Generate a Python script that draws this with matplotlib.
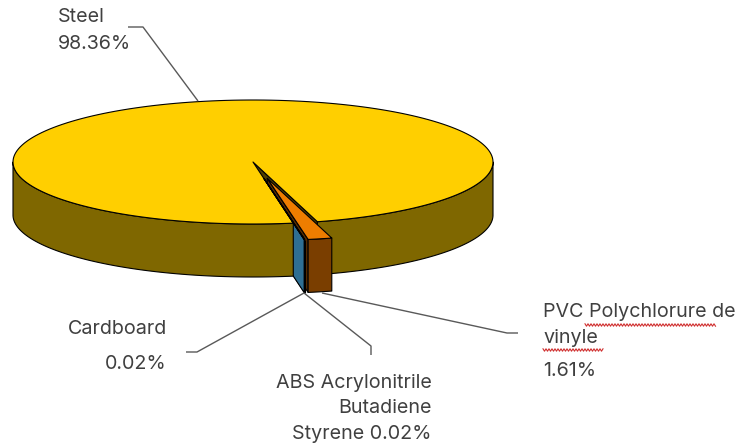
import numpy as np
import matplotlib.pyplot as plt
from matplotlib.patches import Polygon

# data
labels = ["PVC Polychlorure de\nvinyle", "Cardboard", "ABS Acrylonitrile\nButadiene\nStyrene", "Steel"]
shares = [1.61, 0.02, 0.02, 98.36]
top_colors = ["#EE7D00", "#A5A5A5", "#2E75B6", "#FFCF00"]
side_colors = ["#7A3E00", "#555555", "#2F6F93", "#7F6700"]
cut_colors = ["#5A2E00", "#444444", "#2F6F93", "#4F3F00"]
exploded = [True, True, True, False]

# projection of the 3d pie (pixel space)
cx, cy, a, b, h = 253, 162, 240, 62, 53
start = 74.4
explode_frac = 0.27


def pt(theta, z, off):
    t = np.radians(theta)
    return cx + a * np.cos(t) + off[0], cy + b * np.sin(t) + z + off[1]


def arc(t0, t1, z, off, n=200):
    ts = np.linspace(t0, t1, n)
    return [pt(t, z, off) for t in ts]


fig = plt.figure(figsize=(7.42, 4.46), dpi=100)
ax = fig.add_axes([0, 0, 1, 1])
ax.set_xlim(0, 742)
ax.set_ylim(446, 0)
ax.axis("off")

edge = dict(edgecolor="black", linewidth=0.8, joinstyle="round")

spans = []
acc = start
for s in shares:
    t0, t1 = acc, acc + s * 3.6
    spans.append((t0, t1))
    acc = t1

offsets = []
for (t0, t1), ex in zip(spans, exploded):
    m = np.radians((t0 + t1) / 2)
    if ex:
        offsets.append((explode_frac * a * np.cos(m), explode_frac * b * np.sin(m)))
    else:
        offsets.append((0.0, 0.0))


def cut_face(theta, off, color):
    c0 = (cx + off[0], cy + off[1])
    c1 = (cx + off[0], cy + off[1] + h)
    poly = [c0, pt(theta, 0, off), pt(theta, h, off), c1]
    ax.add_patch(Polygon(poly, closed=True, facecolor=color, **edge))


def sides(t0, t1, off, color):
    # front-facing outer wall: sin(theta) > 0
    for k in range(-1, 3):
        lo, hi = max(t0, 360 * k), min(t1, 360 * k + 180)
        if hi > lo:
            poly = arc(lo, hi, 0, off) + arc(hi, lo, h, off)
            ax.add_patch(Polygon(poly, closed=True, facecolor=color, **edge))


def top(t0, t1, off, color):
    poly = [(cx + off[0], cy + off[1])] + arc(t0, t1, 0, off)
    ax.add_patch(Polygon(poly, closed=True, facecolor=color, **edge))


# back-most: visible cut face of the big slice
for i in range(len(shares)):
    if not exploded[i]:
        t0, t1 = spans[i]
        if np.cos(np.radians(t1)) > 0:
            cut_face(t1, offsets[i], cut_colors[i])
        if np.cos(np.radians(t0)) < 0:
            cut_face(t0, offsets[i], cut_colors[i])
# cut faces of the exploded slices (partly behind the big slice's front wall)
for i in range(len(shares)):
    if exploded[i]:
        t0, t1 = spans[i]
        if np.cos(np.radians(t1)) > 0:
            cut_face(t1, offsets[i], cut_colors[i])
# big slice walls and top
for i in range(len(shares)):
    if not exploded[i]:
        t0, t1 = spans[i]
        sides(t0, t1, offsets[i], side_colors[i])
        top(t0, t1, offsets[i], top_colors[i])
# exploded slices in front
for i in range(len(shares)):
    if exploded[i]:
        t0, t1 = spans[i]
        sides(t0, t1, offsets[i], side_colors[i])
        top(t0, t1, offsets[i], top_colors[i])

# leader lines
lc = "#595959"
leaders = [
    [(507, 333), (518, 333)],
    [(197, 352), (186, 352)],
    [(371, 346), (371, 355)],
    [(143, 27), (128, 27)],
]
anchors = [(322, 293), (304, 293), (304, 293), (198, 101)]
for (p0, p1), anc in zip(leaders, anchors):
    ax.plot([anc[0], p0[0], p1[0]], [anc[1], p0[1], p1[1]], color=lc, lw=1.0,
            solid_capstyle="butt")

font = dict(family=["Inter", "DejaVu Sans"], fontsize=14.2, color="#404040")
pcts = [f"{v:.2f}%" for v in shares]
ax.text(543, 312, "PVC Polychlorure de", ha="left", va="center", **font)
ax.text(543, 338, "vinyle", ha="left", va="center", **font)
ax.text(543, 371, pcts[0], ha="left", va="center", **font)
ax.text(167, 329, "Cardboard", ha="right", va="center", **font)
ax.text(167, 364, pcts[1], ha="right", va="center", **font)
ax.text(432, 383, "ABS Acrylonitrile", ha="right", va="center", **font)
ax.text(432, 408, "Butadiene", ha="right", va="center", **font)
ax.text(432, 434, "Styrene " + pcts[2], ha="right", va="center", **font)
ax.text(58, 17, "Steel", ha="left", va="center", **font)
ax.text(58, 44, pcts[3], ha="left", va="center", **font)


# spell-check squiggles
def squiggle(x0, x1, y):
    xs = np.arange(x0, x1, 1.5)
    ys = y + 1.2 * np.where(np.arange(len(xs)) % 2 == 0, -1, 1)
    ax.plot(xs, ys, color="#D03030", lw=0.8)


squiggle(585, 716, 325)
squiggle(543, 604, 350)

fig.savefig("out.png", dpi=100, facecolor="white")
